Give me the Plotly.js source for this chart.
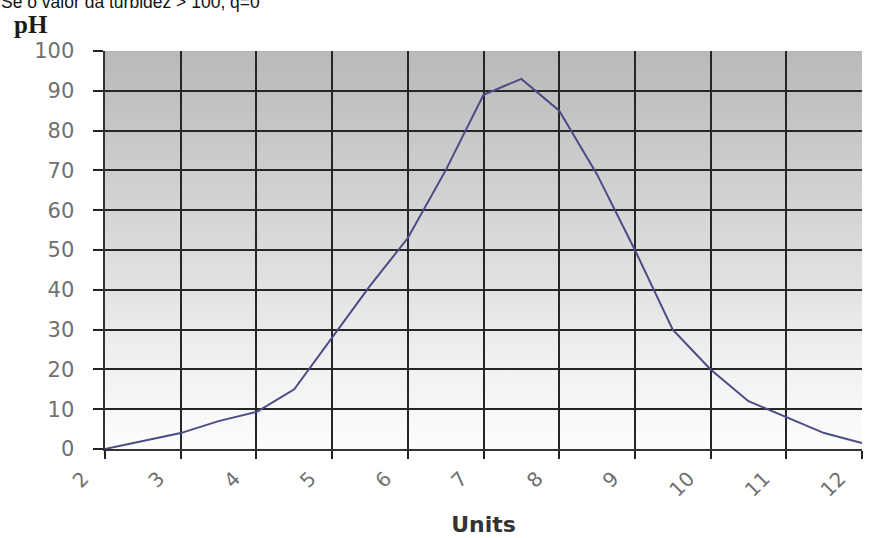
<!DOCTYPE html>
<html>
<head>
<meta charset="utf-8">
<script src="https://cdn.plot.ly/plotly-3.0.1.min.js"></script>
<style>
html,body{margin:0;padding:0;background:#fff;overflow:hidden;}
#wrap{position:relative;width:870px;height:538px;}
#bg{position:absolute;left:105px;top:51px;width:757px;height:398px;
background:linear-gradient(to bottom,#b9b9b9 0%,#d4d4d4 40%,#eeeeee 75%,#fdfdfd 100%);}
#chart{position:absolute;left:0;top:0;width:870px;height:538px;}
</style>
</head>
<body>
<div id="wrap"><div id="bg"></div><div id="chart"></div></div>
<script>
const units = [2, 3, 3.5, 4, 4.5, 5, 5.5, 6, 6.5, 7, 7.5, 8, 8.5, 9, 9.5, 10, 10.5, 11, 11.5, 12];
const phValues = [0, 4, 7, 9.3, 15, 28, 41, 53, 70, 89, 93, 85, 69, 50, 30, 20, 12, 8, 4, 1.5];
const xTicks = [2, 3, 4, 5, 6, 7, 8, 9, 10, 11, 12];
const yTicks = [0, 10, 20, 30, 40, 50, 60, 70, 80, 90, 100];

const trace = {
  x: units, y: phValues, type: 'scatter', mode: 'lines',
  line: {color: '#4b4b86', width: 2},
  hoverinfo: 'skip'
};

const layout = {
  width: 870, height: 538,
  margin: {l: 105, r: 8, t: 51, b: 89},
  paper_bgcolor: 'rgba(0,0,0,0)',
  plot_bgcolor: 'rgba(0,0,0,0)',
  showlegend: false,
  xaxis: {
    range: [2, 12], tickvals: xTicks, ticktext: xTicks.map(String),
    tickangle: -45, ticks: 'outside', ticklen: 8, tickwidth: 2, tickcolor: '#222',
    ticklabeloverflow: 'allow', ticklabelshift: -22,
    showgrid: true, gridcolor: '#262626', gridwidth: 2,
    showline: true, linecolor: '#333', linewidth: 2,
    zeroline: false,
    tickfont: {family: 'DejaVu Sans', size: 20, color: '#707070'},
    title: {text: '<b>Units</b>', font: {family: 'DejaVu Sans', size: 22, color: '#333'}, standoff: 16}
  },
  yaxis: {
    range: [0, 100], tickvals: yTicks, ticktext: yTicks.map(String),
    ticks: 'outside', ticklen: 10, tickwidth: 2, tickcolor: '#222',
    showgrid: true, gridcolor: '#262626', gridwidth: 2,
    showline: true, linecolor: '#333', linewidth: 2.5,
    zeroline: false, ticklabelstandoff: 14,
    tickfont: {family: 'DejaVu Sans', size: 21, color: '#707070'}
  },
  annotations: [
    {text: '<b>pH</b>', xref: 'paper', yref: 'paper', x: -93/757, y: (449-24)/398,
     xanchor: 'left', yanchor: 'middle', showarrow: false,
     font: {family: 'Liberation Serif', size: 25, color: '#1a1a1a'}},
    {text: 'Se o valor da turbidez > 100, q=0', xref: 'paper', yref: 'paper', x: -106/757, y: (449-2)/398,
     xanchor: 'left', yanchor: 'middle', showarrow: false,
     font: {family: 'Liberation Sans', size: 17.5, color: '#111'}}
  ]
};

Plotly.newPlot('chart', [trace], layout, {displayModeBar: false, staticPlot: true});
</script>
</body>
</html>
